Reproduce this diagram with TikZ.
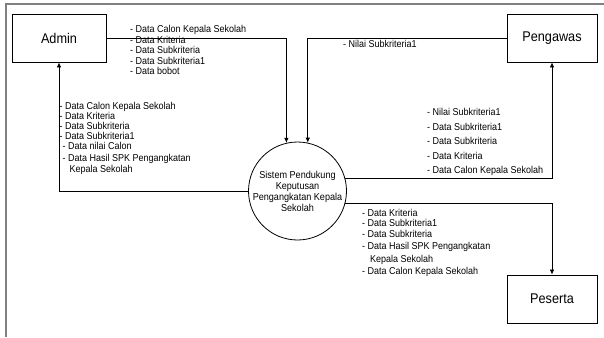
\documentclass[tikz,border=0pt]{standalone}
\usepackage{fontspec}
\setmainfont{Liberation Sans}[FakeStretch=0.9]
\usetikzlibrary{arrows.meta}

\begin{document}
\begin{tikzpicture}[x=1pt,y=-1pt,
  entity/.style={draw,line width=.8pt,minimum width=94pt,minimum height=48pt,inner sep=0pt,font=\fontsize{14.1}{16}\selectfont},
  process/.style={draw,circle,line width=.8pt,minimum size=98pt,inner sep=0pt,align=center,font=\fontsize{10.1}{11}\selectfont},
  flow/.style={line width=.7pt,-{Latex[length=5pt,width=4.5pt]}},
  lbl/.style={anchor=north west,inner sep=0pt,align=left,font=\fontsize{10}{10.5}\selectfont}]
\useasboundingbox(0,0)rectangle(604,337);
%frame
\draw[gray,line width=1.3pt](6,337)--(6,4)--(604,4);
%entities
\node[entity](admin)at(59,38){Admin};
\node[entity,minimum width=90pt](pengawas)at(552,38){Pengawas};
\node[entity,minimum width=90pt](peserta)at(552,299){Peserta};
%process
\node[process](spk)at(297.5,191){Sistem Pendukung\\Keputusan\\Pengangkatan Kepala\\Sekolah};
%flows
\draw[flow](admin.east)-|(spk.103);
\draw[flow](pengawas.west)-|(spk.78);
\draw[flow](spk.west)-|(admin.south);
\draw[flow](spk.15)-|(pengawas.south);
\draw[flow](spk.-14)-|(peserta.north);
%labels
\node[lbl](inadmin)at(130,25.5){- Data Calon Kepala Sekolah\\- Data Kriteria\\- Data Subkriteria\\- Data Subkriteria1\\- Data bobot};
\node[lbl,font=\fontsize{10}{10}\selectfont](outadmin)at(59.5,102.5){- Data Calon Kepala Sekolah\\- Data Kriteria\\- Data Subkriteria\\- Data Subkriteria1\\\hspace*{3pt}- Data nilai Calon\\[1.5pt]\hspace*{3pt}- Data Hasil SPK Pengangkatan\\[1pt]\hspace*{10pt}Kepala Sekolah};
\node[lbl](inpengawas)at(343,40){- Nilai Subkriteria1};
\node[lbl,font=\fontsize{10}{14.5}\selectfont](outpengawas)at(427,108.5){- Nilai Subkriteria1\\- Data Subkriteria1\\- Data Subkriteria\\- Data Kriteria\\- Data Calon Kepala Sekolah};
\node[lbl](outpeserta)at(362,209){- Data Kriteria\\- Data Subkriteria1\\- Data Subkriteria\\[1.5pt]- Data Hasil SPK Pengangkatan\\[2.5pt]\hspace*{8pt}Kepala Sekolah\\[1.5pt]- Data Calon Kepala Sekolah};
\end{tikzpicture}
\end{document}
